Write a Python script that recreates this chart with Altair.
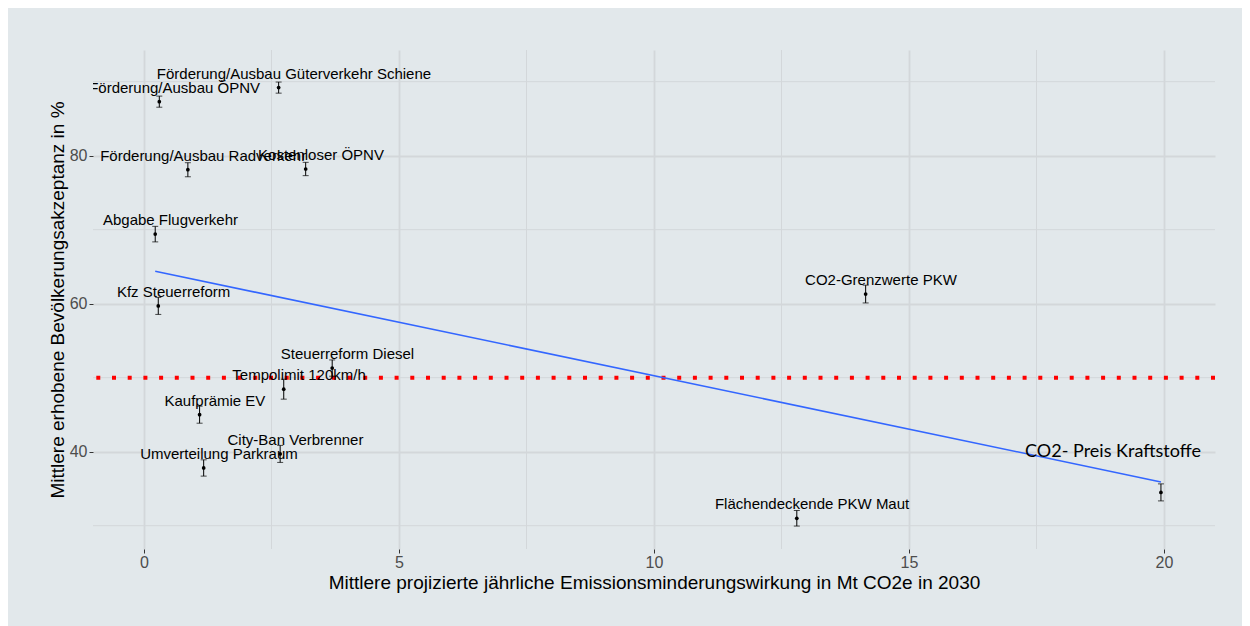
import altair as alt
import pandas as pd

# ---- data ----
measures = [
    "Förderung/Ausbau ÖPNV",
    "Förderung/Ausbau Güterverkehr Schiene",
    "Förderung/Ausbau Radverkehr",
    "Kostenloser ÖPNV",
    "Abgabe Flugverkehr",
    "Kfz Steuerreform",
    "Steuerreform Diesel",
    "Tempolimit 120km/h",
    "Kaufprämie EV",
    "City-Ban Verbrenner",
    "Umverteilung Parkraum",
    "Flächendeckende PKW Maut",
    "CO2-Grenzwerte PKW",
    "CO2- Preis Kraftstoffe",
]
text_labels = measures[:-1] + [""]
emission = [0.30, 2.64, 0.86, 3.17, 0.22, 0.28, 3.69, 2.74, 1.09, 2.67, 1.17, 12.80, 14.15, 19.94]
acceptance = [87.3, 89.2, 78.1, 78.2, 69.4, 59.7, 51.3, 48.45, 45.0, 39.7, 37.8, 31.0, 61.3, 34.5]
error = [0.75, 0.75, 0.95, 0.9, 1.05, 1.15, 1.1, 1.35, 1.15, 1.15, 1.1, 1.05, 1.2, 1.15]

x_major = [0, 5, 10, 15, 20]
x_minor = [2.5, 7.5, 12.5, 17.5]
y_major = [40, 60, 80]
y_minor = [30, 50, 70, 90]
threshold = 50

annot_text = ["CO2- Preis Kraftstoffe"]
annot_x = [19.0]
annot_y = [39.95]

x_title = "Mittlere projizierte jährliche Emissionsminderungswirkung in Mt CO2e in 2030"
y_title = "Mittlere erhobene Bevölkerungsakzeptanz in %"

df = pd.DataFrame({
    "measure": measures,
    "label": text_labels,
    "x": emission,
    "y": acceptance,
    "err": error,
})
df["lo"] = df["y"] - df["err"]
df["hi"] = df["y"] + df["err"]

BG = "#e2e8eb"
GRID = "#d3d7da"

xs = alt.Scale(domain=[-1.0, 21.0], nice=False, zero=False)
ys = alt.Scale(domain=[26.85, 94.28], nice=False, zero=False)

x_axis = alt.Axis(
    values=x_major, title=x_title, grid=True, gridColor=GRID, gridWidth=1.8,
    domain=False, ticks=True, tickSize=4, tickColor="#333333",
    labelFont="Liberation Sans", labelFontSize=16, labelColor="#4d4d4d",
    labelBaseline="alphabetic", labelPadding=14,
    titleFont="Liberation Sans", titleFontSize=19, titleFontWeight="normal",
    titleColor="#000000", titleBaseline="alphabetic", titleX=561, titleY=39,
    titleAlign="center",
)
y_axis = alt.Axis(
    values=y_major, title=y_title, grid=True, gridColor=GRID, gridWidth=1.8,
    domain=False, ticks=True, tickSize=4, tickColor="#333333",
    labelFont="Liberation Sans", labelFontSize=16, labelColor="#4d4d4d",
    labelBaseline="middle", labelPadding=2,
    titleFont="Liberation Sans", titleFontSize=19, titleFontWeight="normal",
    titleColor="#000000", titleBaseline="alphabetic", titleAngle=270,
    titleX=-30, titleY=249.5, titleAlign="center",
)

base = alt.Chart(df)

minor_x = alt.Chart(pd.DataFrame({"v": x_minor})).mark_rule(
    color=GRID, strokeWidth=1
).encode(x=alt.X("v:Q", scale=xs, axis=x_axis))
minor_y = alt.Chart(pd.DataFrame({"v": y_minor})).mark_rule(
    color=GRID, strokeWidth=1
).encode(y=alt.Y("v:Q", scale=ys, axis=y_axis))

red = alt.Chart(pd.DataFrame({"t": [threshold]})).mark_rule(
    color="#ff0000", strokeWidth=4, strokeDash=[4, 11.7], strokeCap="butt"
).encode(y=alt.Y("t:Q", scale=ys))

reg = base.transform_regression("x", "y").mark_line(
    color="#3366ff", strokeWidth=1.6
).encode(x=alt.X("x:Q", scale=xs), y=alt.Y("y:Q", scale=ys))

bars = base.mark_rule(color="#000000", strokeWidth=1).encode(
    x=alt.X("x:Q", scale=xs), y=alt.Y("lo:Q", scale=ys), y2="hi:Q"
)
cap_lo = base.mark_tick(color="#000000", orient="horizontal", size=6, thickness=1).encode(
    x=alt.X("x:Q", scale=xs), y=alt.Y("lo:Q", scale=ys)
)
cap_hi = base.mark_tick(color="#000000", orient="horizontal", size=6, thickness=1).encode(
    x=alt.X("x:Q", scale=xs), y=alt.Y("hi:Q", scale=ys)
)
pts = base.mark_circle(color="#000000", size=14, opacity=1).encode(
    x=alt.X("x:Q", scale=xs), y=alt.Y("y:Q", scale=ys)
)

labels = base.transform_calculate(
    lx="datum.x + 0.3", ly="datum.y + 1.9"
).mark_text(
    font="Liberation Sans", fontSize=15, color="#000000",
    align="center", baseline="middle", clip=True
).encode(
    x=alt.X("lx:Q", scale=xs), y=alt.Y("ly:Q", scale=ys), text="label:N"
)

annot = alt.Chart(pd.DataFrame({"t": annot_text, "x": annot_x, "y": annot_y})).mark_text(
    font="Lato", fontSize=18, color="#000000", align="center", baseline="middle"
).encode(x=alt.X("x:Q", scale=xs), y=alt.Y("y:Q", scale=ys), text="t:N")

chart = alt.layer(
    minor_x, minor_y, red, reg, bars, cap_lo, cap_hi, pts, labels, annot
).properties(
    width=1122, height=499,
    autosize=alt.AutoSizeParams(type="none"),
    padding={"left": 85, "top": 42, "right": 27, "bottom": 77},
    background=BG,
).configure_view(stroke=None, fill=BG)

chart.save("out.html", embed_options={"renderer": "svg", "actions": False})
